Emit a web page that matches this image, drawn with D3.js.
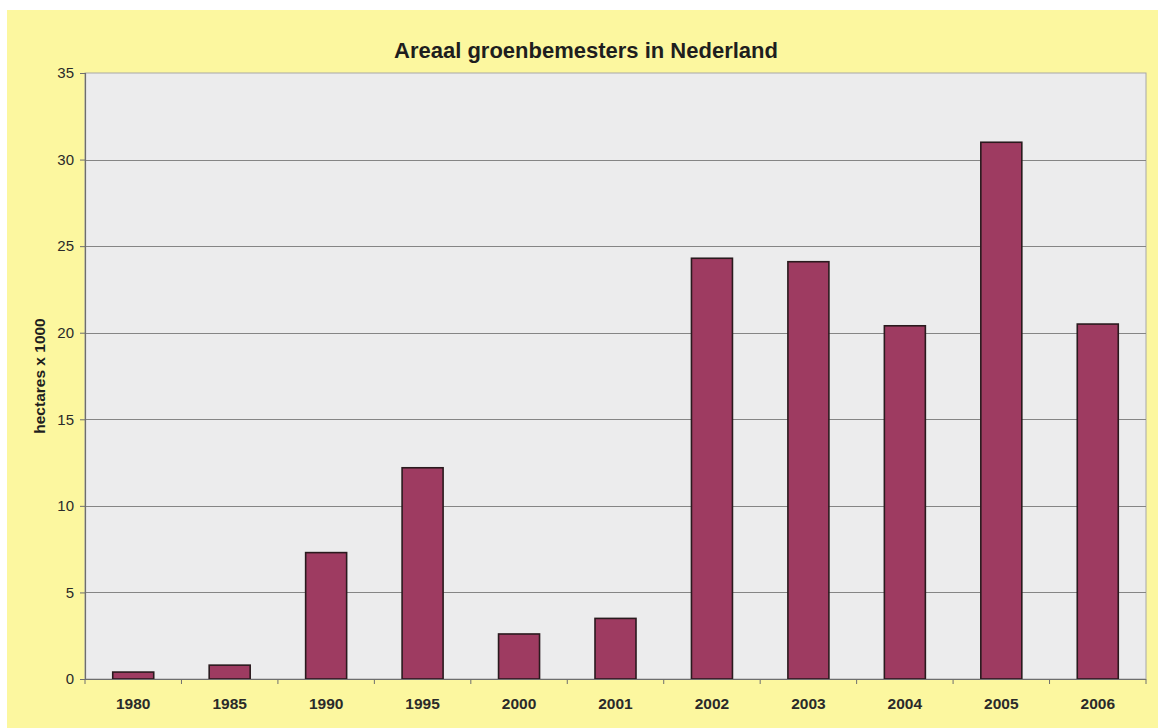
<!DOCTYPE html>
<html>
<head>
<meta charset="utf-8">
<script src="https://cdn.jsdelivr.net/npm/d3@7"></script>
<style>
  html, body { margin: 0; padding: 0; background: #ffffff; }
  svg { display: block; }
</style>
</head>
<body>
<svg id="chart" width="1158" height="728"></svg>
<script>
// Area of green manure crops in the Netherlands (hectares x 1000)
const years = ["1980", "1985", "1990", "1995", "2000", "2001", "2002", "2003", "2004", "2005", "2006"];
const areaValues = [0.4, 0.8, 7.3, 12.2, 2.6, 3.5, 24.3, 24.1, 20.4, 31.0, 20.5];
const yTicks = [0, 5, 10, 15, 20, 25, 30, 35];
const titleText = "Areaal groenbemesters in Nederland";
const yLabelText = "hectares x 1000";

const svg = d3.select("#chart");
const W = 1158, H = 728;
const margin = { left: 85, top: 73, right: 12, bottom: 49 };
const plotW = W - margin.left - margin.right;
const plotH = H - margin.top - margin.bottom;
const font = "Arial, 'Liberation Sans', sans-serif";

// chart background
svg.append("rect")
  .attr("x", 7).attr("y", 10)
  .attr("width", W - 7).attr("height", H - 10)
  .attr("fill", "#fcf79f");

const g = svg.append("g").attr("transform", `translate(${margin.left},${margin.top})`);

const x = d3.scaleBand().domain(years).range([0, plotW]).paddingInner(0.575).paddingOuter(0.2875);
const xEdges = d3.scaleBand().domain(years).range([0, plotW]);
const y = d3.scaleLinear().domain([0, 35]).range([plotH, 0]);

// plot area
g.append("rect")
  .attr("width", plotW).attr("height", plotH)
  .attr("fill", "#ececed")
  .attr("stroke", "#a8a8a8").attr("stroke-width", 1);

// gridlines
g.append("g")
  .selectAll("line")
  .data(yTicks.filter(d => d > 0 && d < 35))
  .join("line")
  .attr("x1", 0).attr("x2", plotW)
  .attr("y1", d => Math.round(y(d)) + 0.5).attr("y2", d => Math.round(y(d)) + 0.5)
  .attr("stroke", "#858585").attr("stroke-width", 1.2);

// bars
g.append("g")
  .selectAll("rect")
  .data(areaValues)
  .join("rect")
  .attr("x", (d, i) => x(years[i]))
  .attr("y", d => y(d))
  .attr("width", x.bandwidth())
  .attr("height", d => plotH - y(d))
  .attr("fill", "#9e3b61")
  .attr("stroke", "#2a1a1e").attr("stroke-width", 1.6);

// y axis
const yAxis = g.append("g")
  .call(d3.axisLeft(y).tickValues(yTicks).tickSize(5).tickPadding(6).tickFormat(d3.format("d")));
yAxis.select(".domain").attr("stroke", "#6e6e6e").attr("stroke-width", 1.2);
yAxis.selectAll(".tick line").attr("stroke", "#6e6e6e");
yAxis.selectAll("text")
  .attr("font-family", font)
  .attr("font-size", 15).attr("fill", "#2a2a2a");

// x axis with ticks at category boundaries
const xAxisG = g.append("g").attr("transform", `translate(0,${plotH})`);
xAxisG.append("line")
  .attr("x1", 0).attr("x2", plotW).attr("y1", 0.5).attr("y2", 0.5)
  .attr("stroke", "#6e6e6e").attr("stroke-width", 1.2);
const boundaries = years.map(d => xEdges(d)).concat([plotW]);
xAxisG.selectAll("line.tk")
  .data(boundaries)
  .join("line").attr("class", "tk")
  .attr("x1", d => d).attr("x2", d => d)
  .attr("y1", 0).attr("y2", 5)
  .attr("stroke", "#6e6e6e");
xAxisG.selectAll("text")
  .data(years)
  .join("text")
  .attr("x", d => x(d) + x.bandwidth() / 2)
  .attr("y", 30)
  .attr("text-anchor", "middle")
  .attr("font-family", font)
  .attr("font-weight", "bold")
  .attr("font-size", 15.5)
  .attr("fill", "#2a2a2a")
  .text(d => d);

// title
svg.append("text")
  .attr("x", 586)
  .attr("y", 58)
  .attr("text-anchor", "middle")
  .attr("font-family", font)
  .attr("font-weight", "bold")
  .attr("font-size", 22)
  .attr("fill", "#1e1e1e")
  .text(titleText);

// y axis title
svg.append("text")
  .attr("transform", `translate(45,${margin.top + plotH / 2}) rotate(-90)`)
  .attr("text-anchor", "middle")
  .attr("font-family", font)
  .attr("font-weight", "bold")
  .attr("font-size", 15.5)
  .attr("fill", "#1e1e1e")
  .text(yLabelText);
</script>
</body>
</html>
